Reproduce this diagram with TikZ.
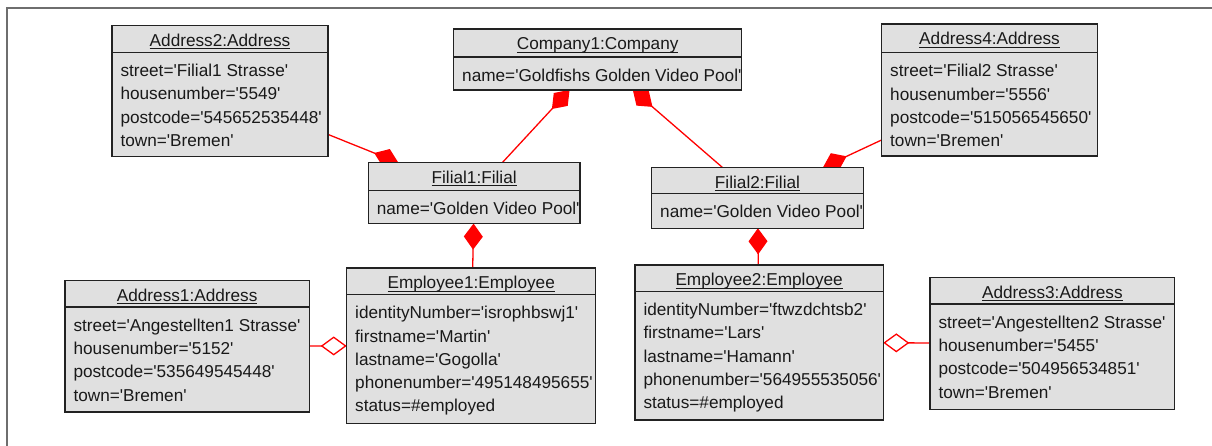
\documentclass[tikz,border=0pt]{standalone}
\usepackage{fontspec}
\setmainfont{Liberation Sans}
\usetikzlibrary{shapes.multipart,arrows.meta,backgrounds}

\definecolor{objfill}{HTML}{E0E0E0}
\definecolor{objline}{HTML}{222222}
\definecolor{framegray}{HTML}{6E6E6E}
\definecolor{linkred}{HTML}{FF0000}

% straight apostrophe
\newcommand{\sq}{\textquotesingle}
% underlined object title with a fixed rule below the baseline
\newcommand{\objtitle}[1]{\setbox0=\hbox{#1}\rlap{\rule[-2.6pt]{\wd0}{0.9pt}}\box0}
% head compartment: width, height, title
\newcommand{\objhead}[3]{\parbox[t][#2pt][t]{\dimexpr#1pt-17pt\relax}{\centering\rule{0pt}{20.3pt}\objtitle{#3}}}
% attribute compartment: width, height, lines
\newcommand{\objbody}[3]{\parbox[t][#2pt][t]{\dimexpr#1pt-17pt\relax}{\rule{0pt}{23.5pt}\begin{tabular}[t]{@{}l@{}}#3\end{tabular}}}
% object box: name, left, top, width, head height, body height, title, attributes
\newcommand{\umlobject}[8]{%
  \node[umlobj] (#1) at (#2,#3) {\objhead{#4}{#5}{#7}\nodepart{two}\objbody{#4}{#6}{#8}};}

\tikzset{
  umlobj/.style={rectangle split, rectangle split parts=2, draw=objline,
    fill=objfill, line width=1.3pt, inner xsep=8.5pt, inner ysep=0pt,
    outer sep=0pt, anchor=north west, text=black!90},
  comp/.style={draw=linkred, line width=1.3pt,
    -{Diamond[length=26pt,width=19pt,fill=linkred]}},
  aggr/.style={draw=linkred, line width=1.3pt,
    -{Diamond[open,length=26pt,width=19pt,fill=white]}},
  framestyle/.style={draw=framegray, line width=1.6pt}
}

\begin{document}
\begin{tikzpicture}[x=1pt,y=-1pt,font=\fontsize{17.2}{23.3}\selectfont]
\useasboundingbox (0,0) rectangle (1212,446);
\draw[framestyle] (7,446) -- (7,8) -- (1212,8);

\umlobject{a2}{112}{25.7}{216}{25.3}{103}{Address2:Address}%
  {street=\sq Filial1 Strasse\sq\\housenumber=\sq 5549\sq\\postcode=\sq 545652535448\sq\\town=\sq Bremen\sq}
\umlobject{c1}{453.7}{29}{288}{26.7}{31.6}{Company1:Company}%
  {name=\sq Goldfishs Golden Video Pool\sq}
\umlobject{a4}{881.7}{24}{215.6}{27.3}{102}{Address4:Address}%
  {street=\sq Filial2 Strasse\sq\\housenumber=\sq 5556\sq\\postcode=\sq 515056545650\sq\\town=\sq Bremen\sq}
\umlobject{f1}{368.3}{162.7}{211.7}{26.6}{31.7}{Filial1:Filial}%
  {name=\sq Golden Video Pool\sq}
\umlobject{f2}{651.7}{167.3}{211.6}{25}{33.4}{Filial2:Filial}%
  {name=\sq Golden Video Pool\sq}
\umlobject{a1}{65}{280.7}{244.3}{25}{103.6}{Address1:Address}%
  {street=\sq Angestellten1 Strasse\sq\\housenumber=\sq 5152\sq\\postcode=\sq 535649545448\sq\\town=\sq Bremen\sq}
\umlobject{e1}{346.7}{268}{249}{25.3}{127.4}{Employee1:Employee}%
  {identityNumber=\sq isrophbswj1\sq\\firstname=\sq Martin\sq\\lastname=\sq Gogolla\sq\\phonenumber=\sq 495148495655\sq\\status=\#employed}
\umlobject{e2}{635}{265}{248.3}{25}{127.3}{Employee2:Employee}%
  {identityNumber=\sq ftwzdchtsb2\sq\\firstname=\sq Lars\sq\\lastname=\sq Hamann\sq\\phonenumber=\sq 564955535056\sq\\status=\#employed}
\umlobject{a3}{930}{277.3}{244.7}{25.4}{104}{Address3:Address}%
  {street=\sq Angestellten2 Strasse\sq\\housenumber=\sq 5455\sq\\postcode=\sq 504956534851\sq\\town=\sq Bremen\sq}

\begin{pgfonlayer}{background}
  \draw[comp] (a2) -- (f1);
  \draw[comp] (f1) -- (c1);
  \draw[comp] (f2) -- (c1);
  \draw[comp] (a4) -- (f2);
  \draw[comp] (e1) -- (f1);
  \draw[comp] (e2) -- (f2);
  \draw[aggr] (a1) -- (e1);
  \draw[aggr] (a3) -- (e2);
\end{pgfonlayer}
\end{tikzpicture}
\end{document}
